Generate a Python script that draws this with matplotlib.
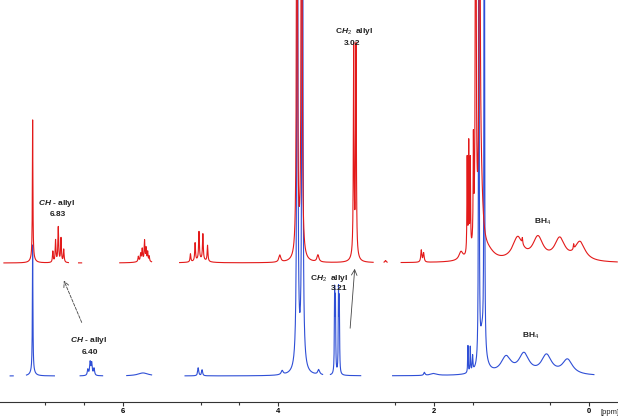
import numpy as np
import matplotlib
matplotlib.use('Agg')
import matplotlib.pyplot as plt

plt.rcParams['font.family'] = ['Liberation Sans', 'DejaVu Sans']
plt.rcParams['mathtext.fontset'] = 'custom'
plt.rcParams['mathtext.rm'] = 'Liberation Sans'
plt.rcParams['mathtext.it'] = 'Liberation Sans:italic:bold'
plt.rcParams['mathtext.bf'] = 'Liberation Sans:bold'

# ---------------- data ----------------
# red (upper) spectrum: peak positions [ppm], heights [px], half-widths [ppm]
red_ppm = [7.16, 7.16,
           6.90, 6.865, 6.83, 6.795, 6.76,
           5.80, 5.77, 5.75, 5.72, 5.70, 5.68, 5.66, 5.73,
           5.13, 5.07, 5.02, 4.97, 4.91, 5.00,
           3.98, 3.76, 3.70, 3.76, 3.70, 3.49,
           3.03, 3.00, 3.015,
           2.62, 2.16, 2.13,
           1.65, 1.57, 1.55, 1.53, 1.49,
           1.46, 1.41, 1.40, 1.30,
           0.92, 0.66, 0.38, 0.12, 0.86, 0.20]
red_height = [138, 5,
              11, 22, 35, 24, 13,
              5, 7, 11, 19, 12, 9, 5, 3,
              8, 18, 28, 26, 16, 3,
              7, 1000, 1000, 15, 15, 7,
              205, 205, 12,
              2, 12, 9,
              8, 95, 108, 90, 100,
              1000, 1000, 90, 8,
              23, 23, 22, 19, 6, 5]
red_width = [0.004, 0.03,
             0.006, 0.006, 0.006, 0.006, 0.006,
             0.006, 0.006, 0.005, 0.005, 0.005, 0.005, 0.005, 0.06,
             0.006, 0.006, 0.006, 0.006, 0.006, 0.08,
             0.015, 0.0045, 0.0045, 0.025, 0.025, 0.015,
             0.005, 0.005, 0.03,
             0.01, 0.008, 0.008,
             0.03, 0.004, 0.004, 0.004, 0.004,
             0.004, 0.004, 0.03, 0.1,
             0.08, 0.08, 0.08, 0.08, 0.005, 0.005]
red_regions = [(7.53, 6.70), (6.57, 6.53), (6.04, 5.63), (5.27, 2.78),
               (2.64, 2.60), (2.42, -0.36)]

# blue (lower) spectrum
blue_ppm = [7.16, 7.16,
            6.45, 6.42, 6.40, 6.37,
            5.74,
            5.03, 4.98,
            3.95, 3.755, 3.69, 3.755, 3.69, 3.48,
            3.275, 3.265, 3.225, 3.215,
            2.12, 2.00,
            1.56, 1.53, 1.50,
            1.42, 1.35, 1.38, 1.35,
            1.07, 0.84, 0.55, 0.28]
blue_height = [126, 5,
               6, 13, 12, 7,
               3,
               8, 6,
               4, 1500, 1500, 25, 25, 5,
               80, 70, 80, 70,
               3, 2,
               27, 25, 15,
               1500, 1500, 30, 8,
               17, 20, 19, 15]
blue_width = [0.004, 0.03,
              0.008, 0.008, 0.008, 0.008,
              0.08,
              0.008, 0.008,
              0.015, 0.004, 0.004, 0.025, 0.025, 0.015,
              0.004, 0.004, 0.004, 0.004,
              0.01, 0.05,
              0.004, 0.004, 0.005,
              0.0025, 0.0025, 0.03, 0.06,
              0.08, 0.08, 0.08, 0.08]
blue_regions = [(7.45, 7.41), (7.24, 6.88), (6.55, 6.26), (5.95, 5.63),
                (5.20, 3.43), (3.33, 2.94), (2.53, -0.06)]

major_ticks = [6, 4, 2, 0]
minor_ticks = [7, 6.5, 5, 4.5, 2.5, 1.5, 0.5]

# ---------------- figure ----------------
W, H = 618, 417
fig = plt.figure(figsize=(W / 100, H / 100), dpi=100)
axis_y = 401.7
ax = fig.add_axes([0, (H - axis_y) / H, 1, axis_y / H])
ax.set_xlim(7.58, -0.37)
ax.set_ylim(0, axis_y)

red_off = axis_y - 263
blue_off = axis_y - 376


def spectrum(x, c, h, w):
    c = np.asarray(c)[:, None]
    h = np.asarray(h)[:, None]
    w = np.asarray(w)[:, None]
    return (h * w ** 2 / ((x[None, :] - c) ** 2 + w ** 2)).sum(axis=0)


def masked(x, y, regions):
    m = np.zeros_like(x, dtype=bool)
    for a, b in regions:
        m |= (x <= a) & (x >= b)
    y = y.copy()
    y[~m] = np.nan
    return y


x = np.arange(-0.4, 7.6, 0.0005)
red_y = masked(x, spectrum(x, red_ppm, red_height, red_width), red_regions)
blue_y = masked(x, spectrum(x, blue_ppm, blue_height, blue_width), blue_regions)

ax.plot(x, red_y + red_off, color='#e31a1a', lw=0.8, zorder=3)
ax.plot(x, blue_y + blue_off, color='#2f4fd6', lw=0.8, zorder=2)

# axis styling
for s in ['top', 'left', 'right']:
    ax.spines[s].set_visible(False)
ax.spines['bottom'].set_color('#333333')
ax.spines['bottom'].set_linewidth(0.8)
ax.set_yticks([])
ax.set_xticks(major_ticks)
ax.set_xticklabels([str(t) for t in major_ticks], fontsize=5.5, fontweight='bold')
ax.set_xticks(minor_ticks, minor=True)
ax.tick_params(axis='x', which='major', length=3.1, width=0.8, pad=1.5, color='#333333')
ax.tick_params(axis='x', which='minor', length=2.2, width=0.8, color='#333333')


def px(xp):
    # convert pixel x to ppm
    return 6 - (xp - 123) / 77.7


def py(yp):
    return axis_y - yp


ax.text(px(610), py(412.5), '[ppm]', fontsize=5.5, ha='center', va='center', color='#222222',
        clip_on=False)

tk = dict(fontsize=6, ha='center', va='center', color='#222222', fontweight='bold')
ax.text(px(57), py(203), r'$\mathit{CH}$ - allyl', **tk)
ax.text(px(58), py(214), '6.83', **tk)
ax.text(px(89), py(340), r'$\mathit{CH}$ - allyl', **tk)
ax.text(px(90), py(352), '6.40', **tk)
ax.text(px(354), py(31), r'C$\mathit{H}_2$  allyl', **tk)
ax.text(px(352), py(43), '3.02', **tk)
ax.text(px(329), py(278), r'C$\mathit{H}_2$  allyl', **tk)
ax.text(px(339), py(288), '3.21', **tk)
ax.text(px(543), py(222), r'BH$_4$', **tk)
ax.text(px(531), py(336), r'BH$_4$', **tk)

ax.annotate('', xy=(px(63), py(278)), xytext=(px(83), py(325)),
            arrowprops=dict(arrowstyle='->', color='#444444', lw=0.6, linestyle='--'))
ax.annotate('', xy=(px(355), py(266)), xytext=(px(350), py(331)),
            arrowprops=dict(arrowstyle='->', color='#444444', lw=0.6))

fig.savefig('out.png', dpi=100)
